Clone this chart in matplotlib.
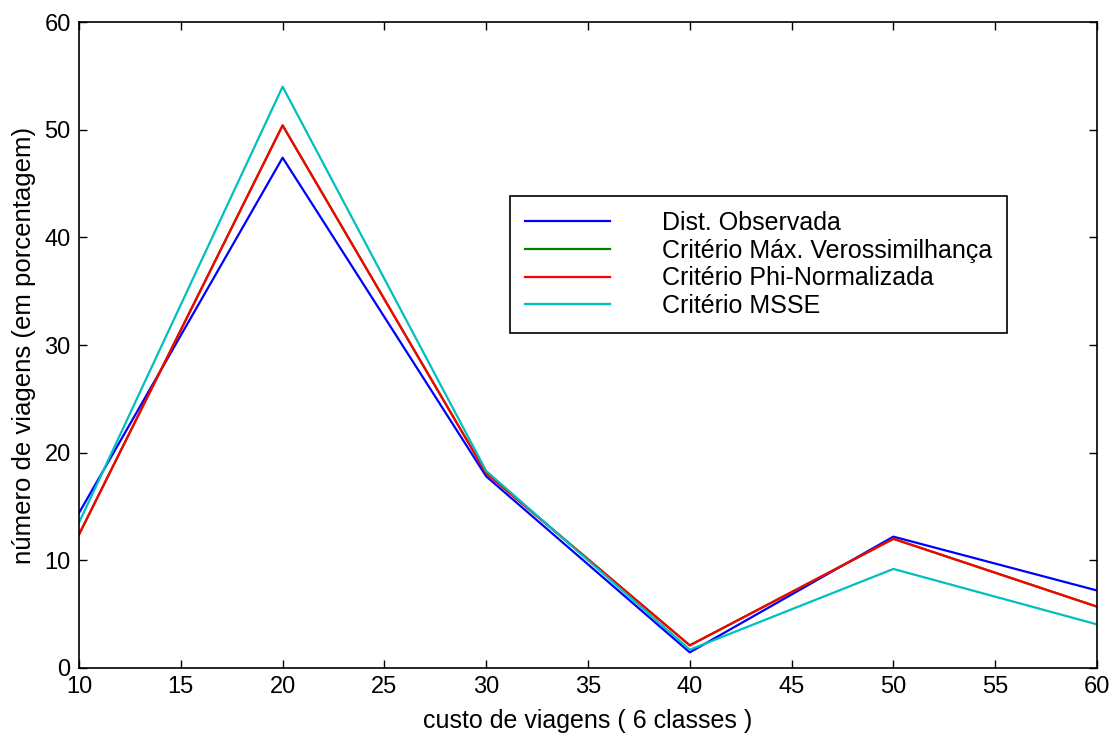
import matplotlib
matplotlib.use("Agg")
from matplotlib import pyplot as plt

# custo de viagens (6 classes)
custo = [10, 20, 30, 40, 50, 60]

# percentual de viagens por critério
observada = [14.4, 47.4, 17.8, 1.45, 12.2, 7.2]
max_verossim = [12.4, 50.4, 18.1, 2.1, 12.0, 5.7]
phi_normalizada = [12.4, 50.4, 18.1, 2.1, 12.0, 5.7]
msse = [13.5, 54.0, 18.3, 1.7, 9.2, 4.05]

labels = [
    "Dist. Observada",
    "Critério Máx. Verossimilhança",
    "Critério Phi-Normalizada",
    "Critério MSSE",
]

plt.rcParams["font.family"] = ["Liberation Sans", "DejaVu Sans"]

fig = plt.figure(figsize=(11.13, 7.36), dpi=100)
ax = fig.add_axes([0.071, 0.0924, 0.9146, 0.8776])

ax.plot(custo, observada, color="#0000ff", lw=1.6, label=labels[0])
ax.plot(custo, max_verossim, color="#008000", lw=1.6, label=labels[1])
ax.plot(custo, phi_normalizada, color="#ff0000", lw=1.6, label=labels[2])
ax.plot(custo, msse, color="#00bfbf", lw=1.6, label=labels[3])

ax.set_xlim(10, 60)
ax.set_ylim(0, 60)
ax.set_xticks(range(10, 61, 5))
ax.set_yticks(range(0, 61, 10))
ax.tick_params(direction="in", top=True, right=True, length=6, width=1,
               labelsize=17, pad=6)
for s in ax.spines.values():
    s.set_linewidth(1.2)

ax.set_xlabel("custo de viagens ( 6 classes )", fontsize=18, labelpad=8)
ax.set_ylabel("número de viagens (em porcentagem)", fontsize=18.5, labelpad=6)

leg = ax.legend(loc="upper left", bbox_to_anchor=(0.423, 0.731),
                fontsize=18, frameon=True, fancybox=False,
                handlelength=3.4, handletextpad=2.1, labelspacing=0.15,
                borderpad=0.6, borderaxespad=0)
leg.get_frame().set_edgecolor("black")
leg.get_frame().set_linewidth(1.2)
leg.get_frame().set_alpha(1)

fig.savefig("out.png", dpi=100)
